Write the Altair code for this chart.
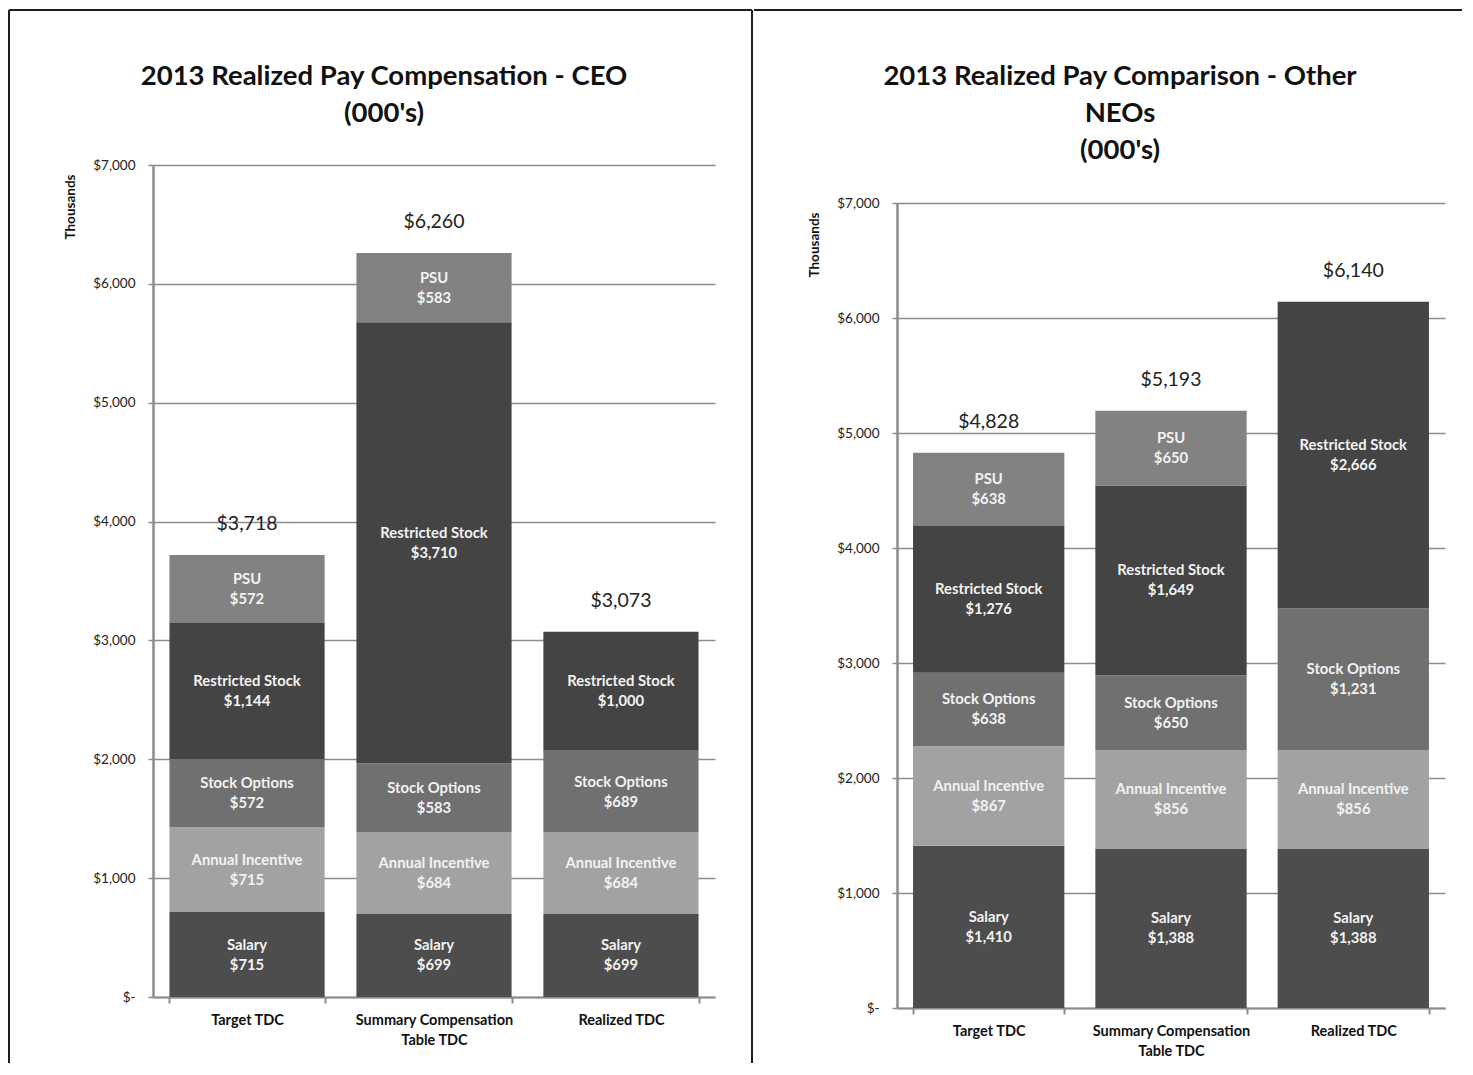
import altair as alt
import pandas as pd

# ---------------- data ----------------
categories = ["Target TDC", "Summary Compensation Table TDC", "Realized TDC"]
segments = ["Salary", "Annual Incentive", "Stock Options", "Restricted Stock", "PSU"]
seg_colors = ["#4d4d4d", "#a2a2a2", "#707070", "#444444", "#828282"]
y_ticks = [0, 1000, 2000, 3000, 4000, 5000, 6000, 7000]

ceo_salary = [715, 699, 699]
ceo_annual = [715, 684, 684]
ceo_options = [572, 583, 689]
ceo_restricted = [1144, 3710, 1000]
ceo_psu = [572, 583, 0]
ceo_totals = [3718, 6260, 3073]
ceo_title = "2013 Realized Pay Compensation - CEO\n(000's)"

neo_salary = [1410, 1388, 1388]
neo_annual = [867, 856, 856]
neo_options = [638, 650, 1231]
neo_restricted = [1276, 1649, 2666]
neo_psu = [638, 650, 0]
neo_totals = [4828, 5193, 6140]
neo_title = "2013 Realized Pay Comparison - Other\nNEOs\n(000's)"

FONT = "Lato"
GRID = "#8c8c8c"


def build_df(series):
    rows = []
    for ci, cat in enumerate(categories):
        start = 0
        for seg, vals in zip(segments, series):
            v = vals[ci]
            if v <= 0:
                continue
            rows.append(dict(cat=cat, seg=seg, value=v, start=start, end=start + v,
                             mid=start + v / 2, label=f"{seg}\n${v:,}"))
            start += v
    return pd.DataFrame(rows)


def panel(series, totals, title, width, height, top_gap, title_xy, rules):
    df = build_df(series)
    tot = pd.DataFrame({"cat": categories, "total": totals,
                        "tlabel": [f"${t:,}" for t in totals]})
    xscale = alt.Scale(domain=categories, paddingInner=0.17, paddingOuter=0.088)
    yscale = alt.Scale(domain=[0, 7000], nice=False, range=[height, top_gap])

    xaxis = alt.Axis(labelAngle=0, tickBand="extent", domainColor=GRID, domainWidth=2,
                     tickColor=GRID, tickWidth=2, tickSize=6, labelPadding=10,
                     labelFont=FONT, labelFontSize=14.5, labelFontWeight="bold",
                     labelColor="#111", labelLineHeight=20,
                     labelExpr="datum.label == 'Summary Compensation Table TDC' ? ['Summary Compensation', 'Table TDC'] : datum.label")
    yaxis = alt.Axis(values=y_ticks, grid=True, gridColor=GRID, gridWidth=1.5,
                     domainColor=GRID, domainWidth=2.5, tickColor=GRID, tickWidth=1.5,
                     tickSize=5, labelPadding=13, labelFont=FONT, labelFontSize=13.5,
                     labelColor="#222",
                     labelExpr="datum.value == 0 ? '$-' : '$' + format(datum.value, ',')",
                     titleFont=FONT, titleFontSize=13.5, titleFontWeight="bold",
                     titleColor="#111", titleAnchor="end", titleY=top_gap + 9,
                     titlePadding=15)

    X = lambda f: alt.X(f, scale=xscale, title=None, sort=categories, axis=xaxis)
    Y = lambda f: alt.Y(f, scale=yscale, title="Thousands", axis=yaxis)

    bars = alt.Chart(df).mark_bar().encode(
        x=X("cat:N"), y=Y("start:Q"), y2="end:Q",
        color=alt.Color("seg:N", scale=alt.Scale(domain=segments, range=seg_colors), legend=None),
    )

    seg_text = alt.Chart(df).mark_text(
        font=FONT, fontSize=14.8, fontWeight="bold", color="#f2f2f2",
        lineBreak="\n", lineHeight=20, baseline="middle", align="center", dy=-9
    ).encode(x=X("cat:N"), y=Y("mid:Q"), text="label:N")

    tot_text = alt.Chart(tot).mark_text(
        font=FONT, fontSize=19.5, color="#222", baseline="bottom", dy=-21
    ).encode(x=X("cat:N"), y=Y("total:Q"), text="tlabel:N")

    tdf = pd.DataFrame({"t": [title]})
    title_mark = alt.Chart(tdf).mark_text(
        font=FONT, fontSize=27.5, fontWeight="bold", color="#111",
        lineBreak="\n", lineHeight=37, baseline="middle", align="center"
    ).encode(x=alt.value(title_xy[0]), y=alt.value(title_xy[1]), text="t:N")

    layers = [bars, seg_text, tot_text, title_mark]
    one = pd.DataFrame({"a": [0]})
    for r in rules:
        enc = {k: alt.value(v) for k, v in r.items()}
        layers.append(alt.Chart(one).mark_rule(color="#1e1e1e", strokeWidth=2).encode(**enc))

    return alt.layer(*layers).properties(width=width, height=height)


left = panel([ceo_salary, ceo_annual, ceo_options, ceo_restricted, ceo_psu], ceo_totals,
             ceo_title, 562, 832, 0, (231, -88),
             [dict(x=-144, x2=599, y=-155),
              dict(x=-144, y=-155, y2=898),
              dict(x=599, y=-155, y2=898)])

right = panel([neo_salary, neo_annual, neo_options, neo_restricted, neo_psu], neo_totals,
              neo_title, 548, 843, 38, (223, -88),
              [dict(x=-143, x2=565, y=-155)])

chart = alt.hconcat(left, right, spacing=0).resolve_scale(
    x="independent", y="independent"
).properties(
    padding={"left": 0, "top": 1, "right": 0, "bottom": 0}
).configure(font=FONT, background="white").configure_view(stroke=None)

chart.save("out.html", embed_options={"renderer": "svg", "actions": False})
